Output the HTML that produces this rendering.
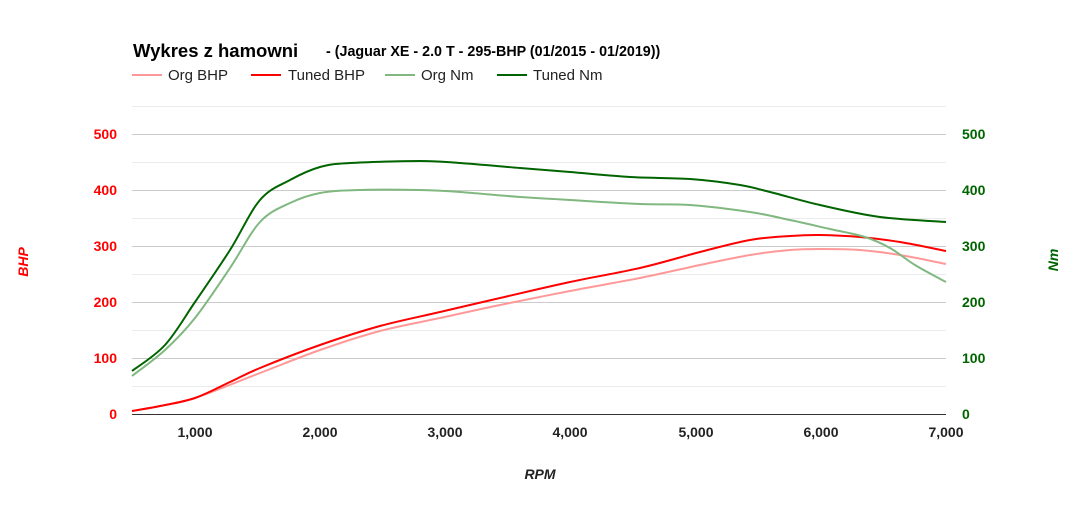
<!DOCTYPE html>
<html><head><meta charset="utf-8"><style>
body{margin:0;background:#fff;font-family:"Liberation Sans",Arial,sans-serif}
</style></head><body>
<svg id="s" width="1077" height="510" xmlns="http://www.w3.org/2000/svg" font-family="Liberation Sans, Arial, sans-serif">
<rect width="1077" height="510" fill="#fff"/>
<text x="133" y="57" font-size="18.5" font-weight="bold" fill="#000">Wykres z hamowni</text>
<text x="326" y="56" font-size="14.3" font-weight="bold" fill="#000">- (Jaguar XE - 2.0 T - 295-BHP (01/2015 - 01/2019))</text>
<g font-size="15" fill="#222">
<line x1="132" y1="75" x2="162" y2="75" stroke="#ff9999" stroke-width="2"/><text x="168" y="80">Org BHP</text>
<line x1="251" y1="75" x2="281" y2="75" stroke="#ff0000" stroke-width="2"/><text x="288" y="80">Tuned BHP</text>
<line x1="385" y1="75" x2="415" y2="75" stroke="#80b880" stroke-width="2"/><text x="421" y="80">Org Nm</text>
<line x1="497" y1="75" x2="527" y2="75" stroke="#006400" stroke-width="2"/><text x="533" y="80">Tuned Nm</text>
</g>
<g stroke="#ebebeb" stroke-width="1">
<line x1="132" y1="106.5" x2="946" y2="106.5"/><line x1="132" y1="162.5" x2="946" y2="162.5"/><line x1="132" y1="218.5" x2="946" y2="218.5"/><line x1="132" y1="274.5" x2="946" y2="274.5"/><line x1="132" y1="330.5" x2="946" y2="330.5"/><line x1="132" y1="386.5" x2="946" y2="386.5"/>
</g>
<g stroke="#cccccc" stroke-width="1">
<line x1="132" y1="134.5" x2="946" y2="134.5"/><line x1="132" y1="190.5" x2="946" y2="190.5"/><line x1="132" y1="246.5" x2="946" y2="246.5"/><line x1="132" y1="302.5" x2="946" y2="302.5"/><line x1="132" y1="358.5" x2="946" y2="358.5"/>
</g>
<line x1="132" y1="414.5" x2="946" y2="414.5" stroke="#333" stroke-width="1"/>
<g font-size="14" font-weight="bold" fill="#ff0000" text-anchor="end">
<text x="117" y="139">500</text><text x="117" y="195">400</text><text x="117" y="251">300</text><text x="117" y="307">200</text><text x="117" y="363">100</text><text x="117" y="419">0</text>
</g>
<g font-size="14" font-weight="bold" fill="#006400" text-anchor="start">
<text x="962" y="139">500</text><text x="962" y="195">400</text><text x="962" y="251">300</text><text x="962" y="307">200</text><text x="962" y="363">100</text><text x="962" y="419">0</text>
</g>
<g font-size="14" font-weight="bold" fill="#222" text-anchor="middle">
<text x="195" y="437">1,000</text><text x="320" y="437">2,000</text><text x="445" y="437">3,000</text><text x="570" y="437">4,000</text><text x="696" y="437">5,000</text><text x="821" y="437">6,000</text><text x="946" y="437">7,000</text>
</g>
<text x="540" y="479" font-size="14" font-weight="bold" font-style="italic" fill="#222" text-anchor="middle">RPM</text>
<text transform="translate(28,262) rotate(-90)" font-size="14" font-weight="bold" font-style="italic" fill="#ff0000" text-anchor="middle">BHP</text>
<text transform="translate(1058,260) rotate(-90)" font-size="14" font-weight="bold" font-style="italic" fill="#006400" text-anchor="middle">Nm</text>
<g fill="none" stroke-width="2" stroke-linejoin="round">
<path id="p1" stroke="#ff9999"/>
<path id="p2" stroke="#ff0000"/>
<path id="p3" stroke="#80b880"/>
<path id="p4" stroke="#006400"/>
</g>
</svg>
<script>
function cr(p){var d="M"+p[0][0]+","+p[0][1];for(var i=0;i<p.length-1;i++){var a=p[i-1]||p[i],b=p[i],c=p[i+1],e=p[i+2]||c;
d+=" C"+(b[0]+(c[0]-a[0])/6).toFixed(1)+","+(b[1]+(c[1]-a[1])/6).toFixed(1)+" "+(c[0]-(e[0]-b[0])/6).toFixed(1)+","+(c[1]-(e[1]-b[1])/6).toFixed(1)+" "+c[0]+","+c[1];}return d;}
var S={
p1:[[132,411],[160,406],[195,398],[260,373],[320,350],[380,331],[440,318],[500,305],[570,291],[640,278],[700,265],[750,255],[790,250],[820,249],[860,250],[900,255],[946,264]],
p2:[[132,411],[160,406],[195,398],[230,382],[260,368],[320,345],[380,326],[440,312],[500,298],[570,282],[640,268],[700,252],[750,240],[790,236],[820,235],[860,237],[900,242],[946,251]],
p3:[[132,376],[165,350],[195,318],[230,268],[260,222],[290,203],[320,193],[360,190],[420,190],[460,192],[520,197],[570,200],[640,204],[690,205],[750,212],[790,220],[830,229],[865,237],[890,248],[915,265],[946,282]],
p4:[[132,371],[165,345],[195,302],[230,250],[260,200],[290,180],[320,167],[350,163],[420,161],[460,163],[520,168],[570,172],[630,177],[690,179],[740,185],[770,192],[820,205],[880,217],[946,222]]};
for(var k in S)document.getElementById(k).setAttribute("d",cr(S[k]));
</script>
</body></html>
